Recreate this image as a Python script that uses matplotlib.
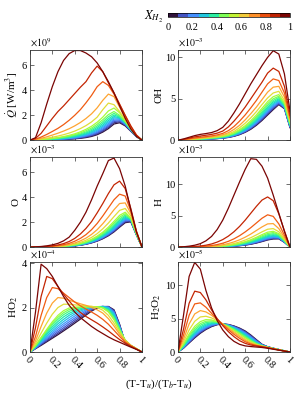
import numpy as np
import matplotlib
matplotlib.use('Agg')
import matplotlib.pyplot as plt
from matplotlib.colors import ListedColormap, Normalize
from matplotlib.cm import ScalarMappable

plt.rcParams['font.family'] = ['Liberation Serif', 'DejaVu Serif']
plt.rcParams['mathtext.fontset'] = 'stix'

# progress variable (T-Tu)/(Tb-Tu)
c_grid = [0, 0.05, 0.1, 0.15, 0.2, 0.25, 0.3, 0.35, 0.4, 0.45, 0.5,
          0.55, 0.6, 0.65, 0.7, 0.75, 0.8, 0.85, 0.9, 0.95, 1.0]

# hydrogen fraction of each flame
x_h2 = [0, 0.05, 0.1, 0.15, 0.2, 0.25, 0.3, 0.35, 0.4, 0.45, 0.5,
        0.6, 0.7, 0.8, 0.9, 1.0]

# heat release rate [x1e9 W/m3], one row per x_h2
q_dot = [
    [0, 0, 0.01, 0.02, 0.03, 0.04, 0.06, 0.08, 0.11, 0.15, 0.21, 0.3, 0.44, 0.65, 0.93, 1.3, 1.4, 1.15, 0.72, 0.28, 0],
    [0, 0, 0.01, 0.02, 0.03, 0.05, 0.07, 0.09, 0.13, 0.18, 0.25, 0.35, 0.5, 0.73, 1.03, 1.4, 1.48, 1.2, 0.75, 0.29, 0],
    [0, 0, 0.01, 0.02, 0.04, 0.06, 0.08, 0.11, 0.15, 0.21, 0.29, 0.4, 0.57, 0.81, 1.12, 1.5, 1.55, 1.24, 0.77, 0.3, 0],
    [0, 0, 0.02, 0.03, 0.05, 0.07, 0.1, 0.13, 0.18, 0.25, 0.34, 0.46, 0.64, 0.9, 1.22, 1.6, 1.62, 1.28, 0.79, 0.31, 0],
    [0, 0.01, 0.02, 0.04, 0.06, 0.08, 0.11, 0.15, 0.21, 0.29, 0.39, 0.53, 0.72, 1.0, 1.33, 1.7, 1.69, 1.32, 0.81, 0.32, 0],
    [0, 0.01, 0.02, 0.04, 0.07, 0.1, 0.13, 0.18, 0.25, 0.33, 0.45, 0.6, 0.81, 1.1, 1.45, 1.8, 1.75, 1.36, 0.83, 0.32, 0],
    [0, 0.01, 0.03, 0.05, 0.08, 0.11, 0.15, 0.21, 0.29, 0.38, 0.51, 0.68, 0.91, 1.21, 1.58, 1.9, 1.8, 1.4, 0.85, 0.33, 0],
    [0, 0.01, 0.03, 0.06, 0.09, 0.13, 0.18, 0.24, 0.33, 0.44, 0.58, 0.77, 1.02, 1.34, 1.72, 2.02, 1.86, 1.43, 0.87, 0.34, 0],
    [0, 0.01, 0.04, 0.07, 0.11, 0.15, 0.21, 0.28, 0.38, 0.5, 0.66, 0.87, 1.14, 1.48, 1.88, 2.15, 1.92, 1.46, 0.89, 0.34, 0],
    [0, 0.02, 0.05, 0.08, 0.13, 0.18, 0.25, 0.33, 0.44, 0.58, 0.76, 0.98, 1.28, 1.64, 2.05, 2.3, 2.0, 1.5, 0.9, 0.35, 0],
    [0, 0.02, 0.06, 0.1, 0.15, 0.21, 0.29, 0.39, 0.51, 0.67, 0.87, 1.12, 1.44, 1.85, 2.35, 2.58, 2.2, 1.55, 0.92, 0.35, 0],
    [0, 0.03, 0.09, 0.16, 0.24, 0.33, 0.44, 0.57, 0.73, 0.93, 1.17, 1.47, 1.85, 2.45, 2.98, 2.85, 2.3, 1.65, 0.95, 0.36, 0],
    [0, 0.05, 0.15, 0.27, 0.41, 0.56, 0.73, 0.92, 1.15, 1.42, 1.74, 2.12, 2.6, 3.2, 3.7, 3.5, 2.65, 1.8, 1.0, 0.38, 0],
    [0, 0.08, 0.25, 0.46, 0.7, 0.95, 1.25, 1.6, 2.0, 2.45, 3.0, 3.6, 4.3, 4.7, 4.4, 3.7, 2.85, 1.95, 1.1, 0.4, 0],
    [0, 0.15, 0.55, 1.15, 1.75, 2.3, 2.75, 3.25, 3.75, 4.25, 4.7, 5.4, 5.95, 5.5, 4.6, 3.8, 2.9, 2.0, 1.15, 0.42, 0],
    [0, 0.2, 1.4, 2.9, 4.3, 5.5, 6.4, 6.95, 7.2, 7.2, 7.0, 6.7, 6.2, 5.5, 4.7, 3.8, 2.75, 1.75, 0.9, 0.3, 0],
]

# OH mass fraction [x1e-3]
oh = [
    [0, 0.01, 0.03, 0.06, 0.09, 0.12, 0.15, 0.19, 0.25, 0.33, 0.47, 0.67, 0.95, 1.32, 1.8, 2.38, 3.04, 3.69, 4.3, 3.8, 1.5],
    [0, 0.01, 0.03, 0.06, 0.09, 0.12, 0.16, 0.2, 0.26, 0.35, 0.49, 0.7, 0.99, 1.38, 1.88, 2.47, 3.14, 3.79, 4.37, 3.85, 1.55],
    [0, 0.01, 0.04, 0.07, 0.1, 0.13, 0.17, 0.21, 0.27, 0.37, 0.52, 0.74, 1.04, 1.45, 1.96, 2.57, 3.25, 3.9, 4.45, 3.9, 1.6],
    [0, 0.01, 0.04, 0.07, 0.1, 0.14, 0.18, 0.23, 0.29, 0.39, 0.55, 0.78, 1.1, 1.52, 2.05, 2.68, 3.37, 4.02, 4.55, 3.95, 1.65],
    [0, 0.02, 0.04, 0.08, 0.11, 0.15, 0.19, 0.24, 0.31, 0.42, 0.58, 0.83, 1.16, 1.6, 2.15, 2.8, 3.5, 4.15, 4.65, 4.0, 1.7],
    [0, 0.02, 0.05, 0.08, 0.12, 0.16, 0.21, 0.26, 0.33, 0.45, 0.62, 0.88, 1.23, 1.69, 2.26, 2.93, 3.65, 4.3, 4.76, 4.05, 1.75],
    [0, 0.02, 0.05, 0.09, 0.13, 0.17, 0.22, 0.28, 0.36, 0.48, 0.66, 0.94, 1.31, 1.79, 2.38, 3.08, 3.8, 4.45, 4.88, 4.1, 1.8],
    [0, 0.02, 0.06, 0.1, 0.14, 0.19, 0.24, 0.3, 0.38, 0.51, 0.71, 1.0, 1.4, 1.9, 2.52, 3.24, 3.98, 4.62, 5.0, 4.2, 1.85],
    [0, 0.02, 0.06, 0.11, 0.15, 0.2, 0.26, 0.32, 0.41, 0.55, 0.76, 1.08, 1.5, 2.03, 2.67, 3.42, 4.18, 4.8, 5.15, 4.3, 1.9],
    [0, 0.03, 0.07, 0.12, 0.17, 0.22, 0.28, 0.35, 0.44, 0.59, 0.82, 1.17, 1.62, 2.18, 2.85, 3.62, 4.4, 5.0, 5.3, 4.4, 2.0],
    [0, 0.03, 0.08, 0.13, 0.18, 0.24, 0.3, 0.38, 0.48, 0.64, 0.9, 1.28, 1.75, 2.35, 3.05, 3.85, 4.65, 5.25, 5.5, 4.55, 2.1],
    [0, 0.04, 0.1, 0.16, 0.22, 0.28, 0.35, 0.44, 0.56, 0.75, 1.05, 1.5, 2.05, 2.7, 3.45, 4.3, 5.1, 5.7, 5.9, 4.8, 2.3],
    [0, 0.05, 0.12, 0.2, 0.27, 0.34, 0.42, 0.52, 0.66, 0.9, 1.3, 1.8, 2.45, 3.2, 4.0, 4.9, 5.8, 6.4, 6.5, 5.2, 2.5],
    [0, 0.07, 0.17, 0.27, 0.35, 0.43, 0.52, 0.64, 0.82, 1.15, 1.65, 2.3, 3.05, 3.9, 4.8, 5.8, 6.8, 7.4, 7.2, 5.7, 2.7],
    [0, 0.1, 0.25, 0.4, 0.5, 0.6, 0.7, 0.85, 1.1, 1.6, 2.3, 3.1, 4.0, 5.0, 6.0, 7.0, 8.1, 8.7, 8.3, 6.5, 3.0],
    [0, 0.15, 0.35, 0.55, 0.7, 0.8, 0.92, 1.15, 1.55, 2.3, 3.3, 4.4, 5.6, 6.8, 7.9, 9.0, 10.0, 10.8, 10.4, 8.0, 3.5],
]

# O mass fraction [x1e-3]
o = [
    [0, 0, 0, 0.01, 0.01, 0.02, 0.04, 0.06, 0.1, 0.15, 0.23, 0.34, 0.48, 0.67, 0.91, 1.22, 1.6, 1.96, 2.03, 0.98, 0],
    [0, 0, 0, 0.01, 0.01, 0.02, 0.04, 0.06, 0.1, 0.16, 0.24, 0.35, 0.5, 0.7, 0.95, 1.27, 1.66, 2.02, 2.07, 0.99, 0],
    [0, 0, 0, 0.01, 0.01, 0.03, 0.04, 0.07, 0.11, 0.17, 0.25, 0.37, 0.52, 0.73, 0.99, 1.32, 1.72, 2.08, 2.11, 1.0, 0],
    [0, 0, 0, 0.01, 0.02, 0.03, 0.05, 0.07, 0.11, 0.18, 0.27, 0.39, 0.55, 0.77, 1.04, 1.38, 1.79, 2.15, 2.17, 1.01, 0],
    [0, 0, 0, 0.01, 0.02, 0.03, 0.05, 0.08, 0.12, 0.19, 0.28, 0.41, 0.58, 0.8, 1.09, 1.44, 1.86, 2.22, 2.2, 1.02, 0],
    [0, 0, 0, 0.01, 0.02, 0.03, 0.05, 0.08, 0.13, 0.2, 0.3, 0.43, 0.61, 0.85, 1.15, 1.52, 1.94, 2.3, 2.21, 1.03, 0],
    [0, 0, 0, 0.01, 0.02, 0.04, 0.06, 0.09, 0.14, 0.21, 0.32, 0.46, 0.65, 0.9, 1.21, 1.6, 2.03, 2.38, 2.23, 1.04, 0],
    [0, 0, 0.01, 0.01, 0.02, 0.04, 0.06, 0.1, 0.15, 0.23, 0.34, 0.49, 0.7, 0.96, 1.29, 1.7, 2.14, 2.47, 2.25, 1.05, 0],
    [0, 0, 0.01, 0.01, 0.03, 0.04, 0.07, 0.11, 0.16, 0.25, 0.37, 0.53, 0.75, 1.03, 1.38, 1.8, 2.26, 2.57, 2.27, 1.06, 0],
    [0, 0, 0.01, 0.02, 0.03, 0.05, 0.07, 0.12, 0.18, 0.27, 0.4, 0.58, 0.81, 1.11, 1.48, 1.93, 2.4, 2.68, 2.3, 1.08, 0],
    [0, 0, 0.01, 0.02, 0.03, 0.05, 0.08, 0.13, 0.2, 0.3, 0.44, 0.63, 0.88, 1.2, 1.6, 2.07, 2.55, 2.8, 2.35, 1.1, 0],
    [0, 0, 0.01, 0.02, 0.04, 0.06, 0.1, 0.16, 0.25, 0.38, 0.55, 0.78, 1.08, 1.47, 1.93, 2.45, 2.95, 3.1, 2.5, 1.15, 0],
    [0, 0, 0.01, 0.03, 0.05, 0.08, 0.13, 0.21, 0.33, 0.5, 0.72, 1.02, 1.4, 1.88, 2.42, 3.0, 3.5, 3.55, 2.7, 1.2, 0],
    [0, 0.01, 0.02, 0.04, 0.07, 0.12, 0.19, 0.3, 0.47, 0.7, 1.0, 1.4, 1.9, 2.5, 3.15, 3.8, 4.25, 4.1, 2.9, 1.25, 0],
    [0, 0.01, 0.03, 0.06, 0.1, 0.17, 0.28, 0.45, 0.7, 1.05, 1.5, 2.05, 2.75, 3.5, 4.3, 5.0, 5.3, 4.7, 3.1, 1.3, 0],
    [0, 0.02, 0.05, 0.1, 0.18, 0.3, 0.5, 0.8, 1.35, 2.0, 2.8, 3.8, 4.9, 5.9, 6.95, 7.15, 6.3, 4.9, 3.0, 1.2, 0],
]

# H mass fraction [x1e-3]
h = [
    [0, 0, 0, 0, 0, 0.01, 0.02, 0.04, 0.06, 0.09, 0.15, 0.22, 0.32, 0.46, 0.65, 0.88, 1.14, 1.3, 1.32, 0.76, 0],
    [0, 0, 0, 0, 0.01, 0.01, 0.02, 0.04, 0.06, 0.1, 0.16, 0.24, 0.34, 0.49, 0.69, 0.93, 1.2, 1.36, 1.37, 0.78, 0],
    [0, 0, 0, 0, 0.01, 0.01, 0.03, 0.04, 0.07, 0.11, 0.17, 0.26, 0.37, 0.53, 0.74, 0.99, 1.27, 1.43, 1.42, 0.8, 0],
    [0, 0, 0, 0, 0.01, 0.02, 0.03, 0.05, 0.08, 0.12, 0.19, 0.28, 0.41, 0.58, 0.8, 1.07, 1.36, 1.52, 1.48, 0.83, 0],
    [0, 0, 0, 0, 0.01, 0.02, 0.03, 0.05, 0.09, 0.13, 0.21, 0.31, 0.45, 0.64, 0.87, 1.15, 1.45, 1.61, 1.55, 0.86, 0],
    [0, 0, 0, 0, 0.01, 0.02, 0.04, 0.06, 0.1, 0.15, 0.23, 0.34, 0.49, 0.7, 0.95, 1.25, 1.56, 1.72, 1.62, 0.89, 0],
    [0, 0, 0, 0.01, 0.01, 0.02, 0.04, 0.07, 0.11, 0.17, 0.26, 0.38, 0.55, 0.77, 1.04, 1.36, 1.68, 1.84, 1.7, 0.93, 0],
    [0, 0, 0, 0.01, 0.01, 0.03, 0.05, 0.08, 0.12, 0.19, 0.29, 0.43, 0.61, 0.85, 1.14, 1.48, 1.82, 1.98, 1.79, 0.97, 0],
    [0, 0, 0, 0.01, 0.02, 0.03, 0.05, 0.09, 0.14, 0.22, 0.33, 0.48, 0.68, 0.94, 1.26, 1.63, 1.98, 2.14, 1.9, 1.02, 0],
    [0, 0, 0, 0.01, 0.02, 0.04, 0.06, 0.1, 0.16, 0.25, 0.38, 0.55, 0.77, 1.05, 1.4, 1.8, 2.17, 2.32, 2.02, 1.08, 0],
    [0, 0, 0.01, 0.01, 0.02, 0.04, 0.07, 0.12, 0.19, 0.29, 0.43, 0.62, 0.87, 1.18, 1.56, 1.99, 2.38, 2.52, 2.15, 1.15, 0],
    [0, 0, 0.01, 0.02, 0.03, 0.06, 0.1, 0.16, 0.26, 0.39, 0.57, 0.81, 1.12, 1.5, 1.95, 2.43, 2.85, 2.95, 2.45, 1.3, 0],
    [0, 0, 0.01, 0.03, 0.05, 0.09, 0.15, 0.24, 0.38, 0.57, 0.83, 1.16, 1.58, 2.08, 2.65, 3.22, 3.7, 3.75, 2.95, 1.55, 0],
    [0, 0.01, 0.03, 0.05, 0.09, 0.15, 0.25, 0.4, 0.62, 0.92, 1.32, 1.82, 2.42, 3.1, 3.85, 4.6, 5.15, 4.9, 3.7, 1.9, 0],
    [0, 0.02, 0.05, 0.1, 0.18, 0.3, 0.5, 0.8, 1.2, 1.75, 2.45, 3.3, 4.3, 5.4, 6.5, 7.5, 8.0, 7.4, 5.3, 2.6, 0],
    [0, 0.05, 0.15, 0.3, 0.55, 1.0, 1.7, 2.8, 4.3, 6.2, 8.3, 10.4, 12.4, 14.1, 14.0, 12.9, 11.0, 8.3, 5.4, 2.5, 0],
]

# HO2 mass fraction [x1e-4]
ho2 = [
    [0, 0.15, 0.3, 0.46, 0.62, 0.78, 0.95, 1.12, 1.3, 1.48, 1.66, 1.84, 1.98, 2.04, 2.05, 1.9, 1.25, 0.4, 0.27, 0.14, 0],
    [0, 0.16, 0.33, 0.5, 0.67, 0.84, 1.01, 1.19, 1.37, 1.55, 1.72, 1.88, 2.0, 2.05, 2.04, 1.87, 1.22, 0.41, 0.27, 0.14, 0],
    [0, 0.17, 0.36, 0.55, 0.73, 0.91, 1.09, 1.27, 1.45, 1.62, 1.78, 1.92, 2.02, 2.05, 2.03, 1.84, 1.19, 0.42, 0.28, 0.14, 0],
    [0, 0.18, 0.39, 0.6, 0.8, 0.99, 1.18, 1.36, 1.53, 1.69, 1.84, 1.95, 2.03, 2.05, 2.02, 1.8, 1.16, 0.43, 0.28, 0.14, 0],
    [0, 0.2, 0.43, 0.65, 0.87, 1.08, 1.27, 1.45, 1.62, 1.77, 1.89, 1.98, 2.04, 2.05, 2.0, 1.76, 1.13, 0.44, 0.28, 0.14, 0],
    [0, 0.21, 0.47, 0.72, 0.95, 1.17, 1.37, 1.55, 1.71, 1.84, 1.94, 2.0, 2.04, 2.04, 1.98, 1.72, 1.1, 0.45, 0.29, 0.14, 0],
    [0, 0.23, 0.51, 0.79, 1.04, 1.27, 1.47, 1.65, 1.79, 1.9, 1.97, 2.02, 2.04, 2.03, 1.95, 1.67, 1.08, 0.47, 0.29, 0.14, 0],
    [0, 0.25, 0.55, 0.86, 1.13, 1.37, 1.58, 1.74, 1.86, 1.95, 2.0, 2.03, 2.04, 2.02, 1.91, 1.61, 1.05, 0.49, 0.29, 0.15, 0],
    [0, 0.26, 0.59, 0.92, 1.22, 1.47, 1.68, 1.83, 1.93, 1.99, 2.02, 2.04, 2.04, 2.0, 1.87, 1.55, 1.02, 0.51, 0.3, 0.15, 0],
    [0, 0.28, 0.63, 0.97, 1.29, 1.56, 1.77, 1.91, 1.98, 2.01, 2.03, 2.04, 2.04, 1.99, 1.84, 1.5, 1.0, 0.53, 0.3, 0.15, 0],
    [0, 0.3, 0.66, 1.02, 1.36, 1.65, 1.86, 1.98, 2.02, 2.03, 2.03, 2.04, 2.04, 1.98, 1.8, 1.45, 0.98, 0.55, 0.3, 0.15, 0],
    [0, 0.38, 0.85, 1.3, 1.7, 2.0, 2.15, 2.15, 2.12, 2.1, 2.08, 2.06, 2.0, 1.88, 1.65, 1.3, 0.88, 0.52, 0.3, 0.15, 0],
    [0, 0.5, 1.15, 1.75, 2.2, 2.45, 2.42, 2.33, 2.25, 2.17, 2.1, 2.0, 1.9, 1.75, 1.5, 1.17, 0.8, 0.5, 0.3, 0.15, 0],
    [0, 0.7, 1.65, 2.45, 2.9, 2.85, 2.65, 2.45, 2.25, 2.08, 1.93, 1.8, 1.65, 1.47, 1.25, 0.98, 0.7, 0.45, 0.28, 0.14, 0],
    [0, 1.1, 2.5, 3.4, 3.3, 2.95, 2.6, 2.3, 2.0, 1.78, 1.6, 1.45, 1.3, 1.13, 0.95, 0.75, 0.56, 0.4, 0.26, 0.13, 0],
    [0, 1.8, 3.95, 3.75, 3.4, 2.95, 2.5, 2.1, 1.8, 1.55, 1.35, 1.15, 0.98, 0.83, 0.68, 0.55, 0.44, 0.33, 0.22, 0.12, 0],
]

# H2O2 mass fraction [x1e-5]
h2o2 = [
    [0, 0.58, 1.36, 2.12, 2.81, 3.37, 3.8, 4.09, 4.2, 4.12, 3.9, 3.58, 3.15, 2.55, 1.85, 1.16, 0.79, 0.57, 0.37, 0.18, 0],
    [0, 0.61, 1.42, 2.2, 2.9, 3.45, 3.86, 4.12, 4.2, 4.1, 3.86, 3.52, 3.07, 2.46, 1.78, 1.13, 0.78, 0.56, 0.37, 0.18, 0],
    [0, 0.64, 1.49, 2.3, 3.0, 3.54, 3.93, 4.15, 4.2, 4.07, 3.81, 3.45, 2.98, 2.37, 1.71, 1.1, 0.77, 0.56, 0.37, 0.18, 0],
    [0, 0.68, 1.57, 2.41, 3.12, 3.64, 4.0, 4.19, 4.2, 4.04, 3.75, 3.37, 2.89, 2.27, 1.63, 1.07, 0.76, 0.55, 0.37, 0.18, 0],
    [0, 0.72, 1.66, 2.53, 3.25, 3.75, 4.08, 4.23, 4.2, 4.01, 3.69, 3.28, 2.79, 2.17, 1.55, 1.04, 0.75, 0.55, 0.36, 0.18, 0],
    [0, 0.77, 1.77, 2.68, 3.4, 3.88, 4.17, 4.28, 4.2, 3.98, 3.62, 3.19, 2.68, 2.06, 1.47, 1.01, 0.74, 0.54, 0.36, 0.18, 0],
    [0, 0.83, 1.9, 2.85, 3.58, 4.03, 4.27, 4.33, 4.2, 3.94, 3.55, 3.1, 2.57, 1.96, 1.4, 0.98, 0.73, 0.54, 0.36, 0.18, 0],
    [0, 0.9, 2.05, 3.05, 3.77, 4.2, 4.38, 4.38, 4.2, 3.9, 3.48, 3.0, 2.45, 1.86, 1.32, 0.95, 0.72, 0.53, 0.35, 0.17, 0],
    [0, 1.0, 2.25, 3.3, 4.0, 4.4, 4.5, 4.45, 4.2, 3.85, 3.4, 2.9, 2.33, 1.77, 1.26, 0.93, 0.71, 0.53, 0.35, 0.17, 0],
    [0, 1.1, 2.45, 3.55, 4.25, 4.6, 4.65, 4.5, 4.2, 3.8, 3.33, 2.8, 2.22, 1.68, 1.21, 0.91, 0.71, 0.52, 0.35, 0.17, 0],
    [0, 1.2, 2.7, 3.85, 4.55, 4.85, 4.8, 4.55, 4.2, 3.75, 3.25, 2.7, 2.12, 1.6, 1.17, 0.9, 0.7, 0.52, 0.34, 0.17, 0],
    [0, 1.5, 3.3, 4.6, 5.25, 5.35, 5.1, 4.7, 4.2, 3.65, 3.07, 2.5, 1.93, 1.45, 1.1, 0.87, 0.69, 0.51, 0.34, 0.17, 0],
    [0, 1.9, 4.2, 5.7, 6.2, 6.0, 5.5, 4.85, 4.2, 3.55, 2.9, 2.3, 1.75, 1.32, 1.03, 0.85, 0.68, 0.5, 0.33, 0.16, 0],
    [0, 2.5, 5.5, 7.2, 7.35, 6.7, 5.8, 4.9, 4.1, 3.35, 2.65, 2.05, 1.55, 1.2, 0.98, 0.82, 0.66, 0.49, 0.32, 0.16, 0],
    [0, 3.4, 7.3, 9.1, 8.9, 7.8, 6.3, 5.0, 3.95, 3.05, 2.3, 1.7, 1.3, 1.05, 0.9, 0.78, 0.63, 0.47, 0.31, 0.15, 0],
    [0, 5.5, 11.3, 13.4, 12.4, 9.2, 6.6, 4.7, 3.3, 2.3, 1.6, 1.15, 0.92, 0.82, 0.75, 0.68, 0.56, 0.42, 0.28, 0.14, 0],
]

panels = [
    (q_dot, r'$\dot{Q}$ [W/m$^3$]', r'$\times10^{9}$', 7.25, [0, 2, 4, 6]),
    (oh, 'OH', r'$\times10^{-3}$', 10.9, [0, 5, 10]),
    (o, 'O', r'$\times10^{-3}$', 7.25, [0, 2, 4, 6]),
    (h, 'H', r'$\times10^{-3}$', 14.4, [0, 5, 10]),
    (ho2, r'HO$_2$', r'$\times10^{-4}$', 4.06, [0, 2, 4]),
    (h2o2, r'H$_2$O$_2$', r'$\times10^{-5}$', 13.5, [0, 5, 10]),
]

lefts = [0.100, 0.595]
bottoms = [0.646, 0.376, 0.111]
cmap = plt.get_cmap('turbo')
edge = '#333333'

fig = plt.figure(figsize=(2.99, 3.96), dpi=100)

for k, (vals, ylab, mult, ytop, yt) in enumerate(panels):
    row, col = divmod(k, 2)
    ax = fig.add_axes([lefts[col], bottoms[row], 0.375, 0.228])
    for xv, yv in zip(x_h2, vals):
        ax.plot(c_grid, yv, color=cmap(xv), lw=0.9)
    ax.set_xlim(0, 1)
    ax.set_ylim(0, ytop)
    ax.set_yticks(yt)
    ax.set_yticklabels([str(t) for t in yt])
    ax.set_xticks([0, 0.2, 0.4, 0.6, 0.8, 1.0])
    ax.tick_params(direction='in', top=True, right=True, length=3,
                   width=0.5, labelsize=7.5, pad=2, color=edge)
    for s in ax.spines.values():
        s.set_linewidth(0.6)
        s.set_color(edge)
    if row == 2:
        ax.set_xticklabels(['0', '0.2', '0.4', '0.6', '0.8', '1'],
                           rotation=-45, ha='left', va='top',
                           rotation_mode='anchor')
    else:
        ax.set_xticklabels([])
    ax.set_ylabel(ylab, fontsize=8, labelpad=1)
    ax.text(0.0, 1.005, mult, transform=ax.transAxes, ha='left',
            va='bottom', fontsize=7)

fig.text(0.53, 0.03, r'(T-T$_u$)/(T$_b$-T$_u$)', ha='center', va='center',
         fontsize=8)

# colour bar for the hydrogen fraction
cax = fig.add_axes([0.562, 0.956, 0.408, 0.0116])
cmap12 = ListedColormap(cmap(np.linspace(0, 1, 12)))
cb = fig.colorbar(ScalarMappable(norm=Normalize(0, 1), cmap=cmap12),
                  cax=cax, orientation='horizontal')
cb.set_ticks([0, 0.2, 0.4, 0.6, 0.8, 1.0])
cb.set_ticklabels(['0', '0.2', '0.4', '0.6', '0.8', '1'])
cax.tick_params(length=0, labelsize=7.5, pad=4)
cb.outline.set_linewidth(0.5)
fig.text(0.545, 0.957, r'$X_{H_2}$', ha='right', va='center', fontsize=9)

fig.savefig('out.png', dpi=100)
